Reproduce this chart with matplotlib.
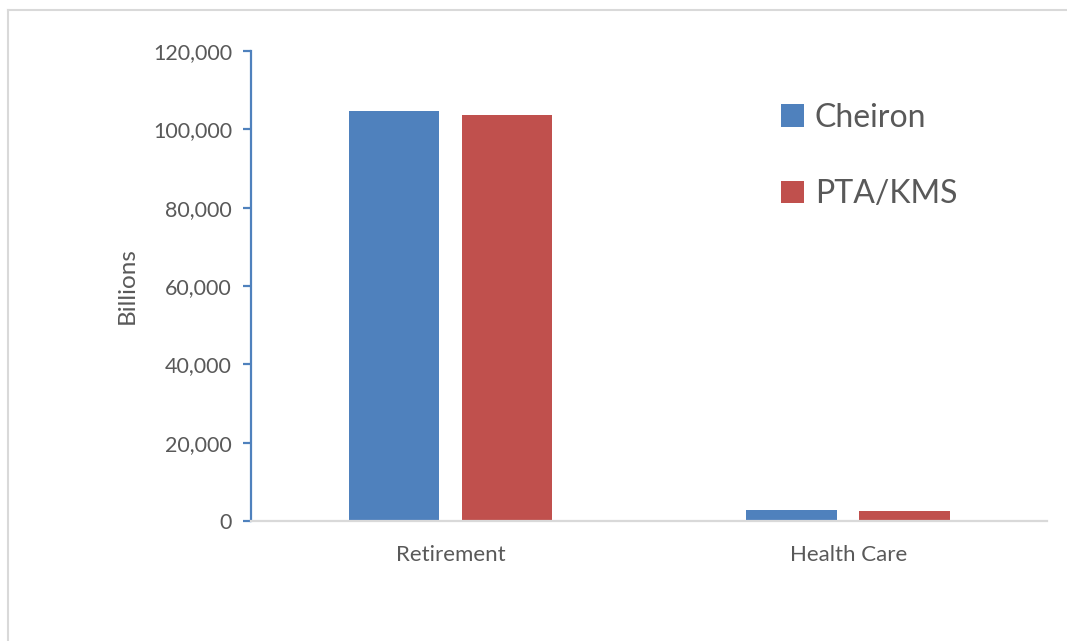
import matplotlib
matplotlib.use("Agg")
import matplotlib.pyplot as plt
from matplotlib.lines import Line2D
from matplotlib.ticker import FuncFormatter
import numpy as np

# data (billions)
categories = ["Retirement", "Health Care"]
series_names = ["Cheiron", "PTA/KMS"]
cheiron = [104700, 2800]
pta_kms = [103600, 2500]
y_ticks = [0, 20000, 40000, 60000, 80000, 100000, 120000]

BLUE = "#4F81BD"
RED = "#C0504D"
GREY_TXT = "#595959"

plt.rcParams["font.family"] = ["Lato", "DejaVu Sans"]

fig = plt.figure(figsize=(10.67, 6.41), dpi=100)
ax = fig.add_axes([0.2357, 0.1872, 0.7456, 0.7332])

# chart-area frame from the document (top and left edges only)
fx0, fy0 = 8 / 1067, 1 - 10 / 641
fig.add_artist(Line2D([fx0, 1.0], [fy0, fy0], transform=fig.transFigure,
                      color="#D9D9D9", linewidth=1.5))
fig.add_artist(Line2D([fx0, fx0], [0.0, fy0], transform=fig.transFigure,
                      color="#D9D9D9", linewidth=1.5))

x = np.arange(len(categories))
w = 0.228
off = 0.142
ax.bar(x - off, cheiron, w, color=BLUE, label=series_names[0])
ax.bar(x + off, pta_kms, w, color=RED, label=series_names[1])

ax.set_xlim(-0.5, 1.5)
ax.set_ylim(0, 120000)
ax.set_yticks(y_ticks)
ax.yaxis.set_major_formatter(FuncFormatter(lambda v, p: f"{v:,.0f}"))
ax.set_xticks(x, categories)

for s in ["top", "right"]:
    ax.spines[s].set_visible(False)
ax.spines["left"].set_color(BLUE)
ax.spines["left"].set_linewidth(1.6)
ax.spines["bottom"].set_color("#D9D9D9")
ax.spines["bottom"].set_linewidth(1.6)

ax.tick_params(axis="y", colors=BLUE, length=6, width=1.6, labelsize=15.5,
               labelcolor=GREY_TXT, pad=8)
ax.tick_params(axis="x", length=0, labelsize=16, labelcolor=GREY_TXT, pad=17)

ax.set_ylabel("Billions", fontsize=17.5, color=GREY_TXT, labelpad=11)

ax.legend(loc="upper left", bbox_to_anchor=(0.63, 0.951), frameon=False,
          fontsize=23, handlelength=0.7, handleheight=0.7, handletextpad=0.35,
          labelspacing=1.45, labelcolor=GREY_TXT)

fig.savefig("out.png", dpi=100)
